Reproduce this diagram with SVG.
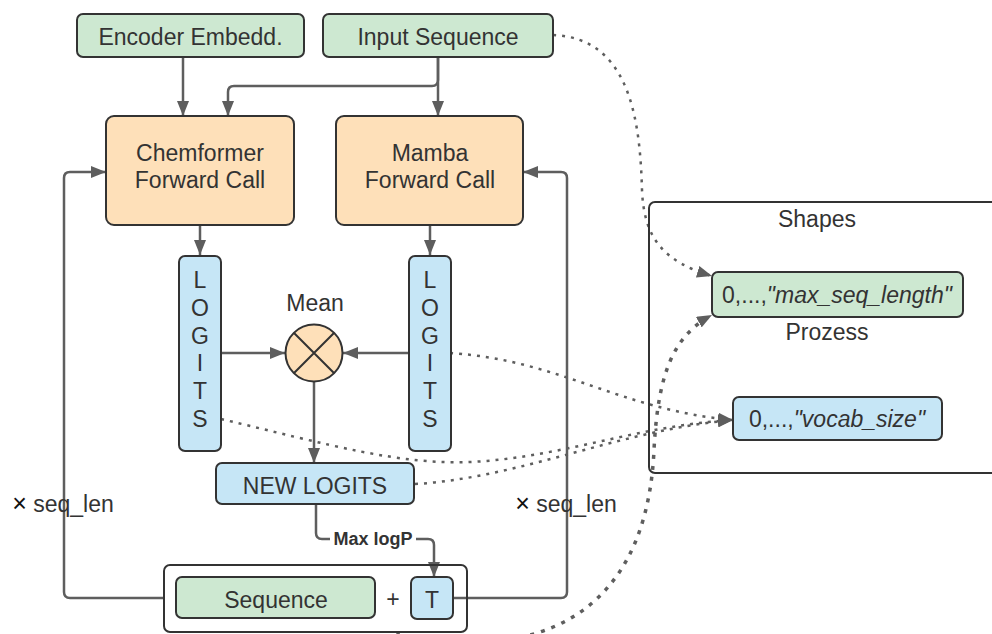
<svg xmlns="http://www.w3.org/2000/svg" width="992" height="634" viewBox="0 0 992 634">
  <defs>
    <marker id="arrow" markerUnits="userSpaceOnUse" markerWidth="16" markerHeight="12" refX="15" refY="6" orient="auto">
      <path d="M0,0 L15,6 L0,12 z" fill="#5e5e5e"/>
    </marker>
    <style>
      .box { stroke: #333; stroke-width: 2; }
      .green { fill: #cde8d1; }
      .orange { fill: #fee0b9; }
      .blue { fill: #c6e6f6; }
      .frame { fill: none; stroke: #333; stroke-width: 2; }
      .lbl { font-family: "Liberation Sans", Arial, sans-serif; font-size: 23px; fill: #333; text-anchor: middle; }
      .conn { fill: none; stroke: #5e5e5e; stroke-width: 2.5; }
      .dot { fill: none; stroke: #5e5e5e; stroke-width: 2.5; stroke-dasharray: 3 6; }
      .dot-thick { fill: none; stroke: #5e5e5e; stroke-width: 3.5; stroke-dasharray: 4 7; }
      .it { font-style: italic; }
      .times { font-size: 25px; fill: #111; }
    </style>
  </defs>

  <rect width="992" height="634" fill="#ffffff"/>

  <!-- connectors -->
  <g id="connectors">
    <path class="conn" d="M183,57 V116" marker-end="url(#arrow)"/>
    <path class="conn" d="M438,57 V80 Q438,86 432,86 H234 Q228,86 228,92 V116" marker-end="url(#arrow)"/>
    <path class="conn" d="M438,57 V116" marker-end="url(#arrow)"/>
    <path class="conn" d="M200,225 V255" marker-end="url(#arrow)"/>
    <path class="conn" d="M430,225 V255" marker-end="url(#arrow)"/>
    <path class="conn" d="M221,353 H285" marker-end="url(#arrow)"/>
    <path class="conn" d="M409,353 H343" marker-end="url(#arrow)"/>
    <path class="conn" d="M314,382 V463" marker-end="url(#arrow)"/>
    <path class="conn" d="M316,504 V533 Q316,539 322,539 H428 Q434,539 434,545 V577" marker-end="url(#arrow)"/>
    <path class="conn" d="M164,598 H70 Q64,598 64,592 V178 Q64,172 70,172 H106" marker-end="url(#arrow)"/>
    <path class="conn" d="M453,598 H561 Q567,598 567,592 V178 Q567,172 561,172 H523" marker-end="url(#arrow)"/>

    <!-- Max logP label -->
    <rect x="330" y="528" width="86" height="21" fill="#ffffff"/>
    <text x="373" y="545" font-family="Liberation Sans, Arial, sans-serif" font-size="18" font-weight="bold" fill="#333" text-anchor="middle">Max logP</text>

    <!-- dotted shape references -->
    <path class="dot" d="M553,35 C630,38 640,120 642,190 C644,240 665,262 712,276" marker-end="url(#arrow)"/>
    <path class="dot" d="M450,353 C560,360 620,410 733,420" marker-end="url(#arrow)"/>
    <path class="dot" d="M221,419 C330,445 400,465 470,462 C560,458 640,425 733,420" marker-end="url(#arrow)"/>
    <path class="dot" d="M415,484 C520,478 620,430 733,420" marker-end="url(#arrow)"/>
    <path class="dot-thick" d="M398,632 C398,660 470,655 540,632 C615,607 650,540 654,450 C658,370 675,335 712,315" marker-end="url(#arrow)"/>
  </g>

  <!-- nodes -->
  <g id="encoder-embedd">
    <rect class="box green" x="77" y="14" width="227" height="43" rx="6"/>
    <text class="lbl" x="190.5" y="45">Encoder Embedd.</text>
  </g>
  <g id="input-sequence">
    <rect class="box green" x="323" y="14" width="230" height="43" rx="6"/>
    <text class="lbl" x="438" y="45">Input Sequence</text>
  </g>
  <g id="chemformer">
    <rect class="box orange" x="106" y="116" width="188" height="109" rx="8"/>
    <text class="lbl" x="200" y="161">Chemformer</text>
    <text class="lbl" x="200" y="188">Forward Call</text>
  </g>
  <g id="mamba">
    <rect class="box orange" x="336" y="116" width="187" height="109" rx="8"/>
    <text class="lbl" x="430" y="161">Mamba</text>
    <text class="lbl" x="430" y="188">Forward Call</text>
  </g>
  <g id="logits-left">
    <rect class="box blue" x="179" y="256" width="42" height="195" rx="6"/>
    <text class="lbl" x="200" y="288">L</text>
    <text class="lbl" x="200" y="316">O</text>
    <text class="lbl" x="200" y="344">G</text>
    <text class="lbl" x="200" y="371">I</text>
    <text class="lbl" x="200" y="399">T</text>
    <text class="lbl" x="200" y="427">S</text>
  </g>
  <g id="logits-right">
    <rect class="box blue" x="409" y="256" width="42" height="195" rx="6"/>
    <text class="lbl" x="430" y="288">L</text>
    <text class="lbl" x="430" y="316">O</text>
    <text class="lbl" x="430" y="344">G</text>
    <text class="lbl" x="430" y="371">I</text>
    <text class="lbl" x="430" y="399">T</text>
    <text class="lbl" x="430" y="427">S</text>
  </g>
  <g id="mean">
    <text class="lbl" x="315" y="311">Mean</text>
    <circle class="box orange" cx="314" cy="353" r="28.5"/>
    <path d="M293.8,332.8 L334.2,373.2 M334.2,332.8 L293.8,373.2" stroke="#333" stroke-width="2"/>
  </g>
  <g id="new-logits">
    <rect class="box blue" x="216" y="463" width="198" height="41" rx="6"/>
    <text class="lbl" x="315" y="494">NEW LOGITS</text>
  </g>
  <g id="seq-len-left">
    <text class="lbl" x="63" y="512"><tspan class="times">×</tspan> seq_len</text>
  </g>
  <g id="seq-len-right">
    <text class="lbl" x="566" y="512"><tspan class="times">×</tspan> seq_len</text>
  </g>
  <g id="sequence-plus-token">
    <rect class="frame" x="164" y="565" width="303" height="67" rx="6"/>
    <rect class="box green" x="176" y="577" width="199" height="41" rx="6"/>
    <text class="lbl" x="276" y="608">Sequence</text>
    <text class="lbl" x="393" y="607">+</text>
    <rect class="box blue" x="411" y="577" width="42" height="42" rx="6"/>
    <text class="lbl" x="432" y="608">T</text>
  </g>
  <g id="shapes">
    <rect class="frame" x="649" y="202" width="360" height="271" rx="6"/>
    <text class="lbl" x="817" y="227">Shapes</text>
  </g>
  <g id="max-seq-length">
    <rect class="box green" x="712" y="272" width="251" height="45" rx="6"/>
    <text class="lbl" x="837" y="303">0,...,<tspan class="it">"max_seq_length"</tspan></text>
  </g>
  <g id="prozess">
    <text class="lbl" x="827" y="340">Prozess</text>
  </g>
  <g id="vocab-size">
    <rect class="box blue" x="733" y="397" width="209" height="43" rx="6"/>
    <text class="lbl" x="837" y="427">0,...,<tspan class="it">"vocab_size"</tspan></text>
  </g>
</svg>
